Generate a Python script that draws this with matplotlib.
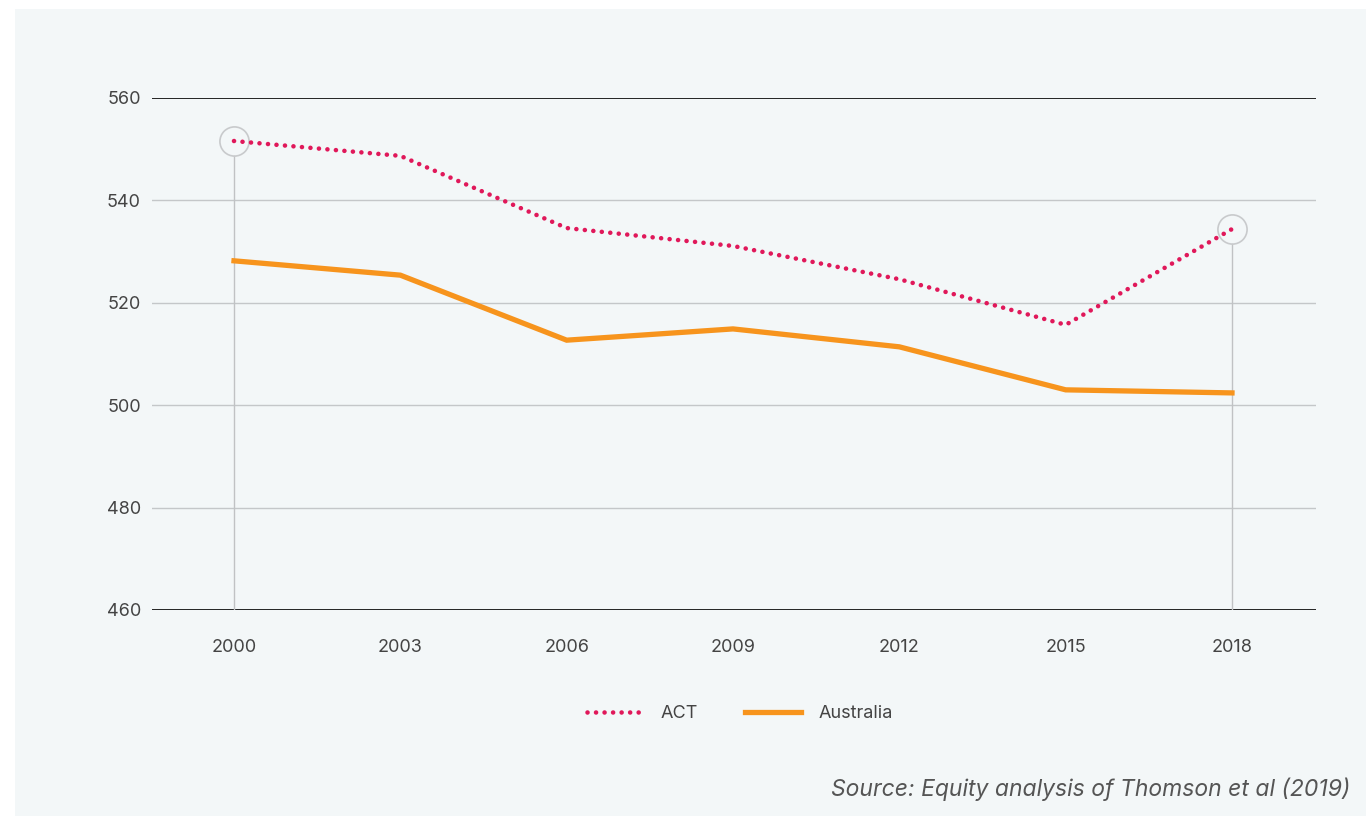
import matplotlib
matplotlib.use('Agg')
import matplotlib.pyplot as plt
from matplotlib.patches import Rectangle

# Данные графика
years = ['2000', '2003', '2006', '2009', '2012', '2015', '2018']
act = [551.6, 548.7, 534.6, 531.1, 524.6, 515.7, 534.4]
australia = [528.2, 525.4, 512.7, 514.9, 511.4, 503.0, 502.4]
y_ticks = [460, 480, 500, 520, 540, 560]
highlight = [0, 6]  # точки ACT, обведённые кружком

W, H = 1366, 816
plt.rcParams['font.family'] = ['Inter', 'DejaVu Sans']

fig = plt.figure(figsize=(W / 100, H / 100), dpi=100, facecolor='white')
# Светлая подложка
fig.patches.append(Rectangle((15 / W, 0), (W - 15) / W, (H - 9) / H,
                             transform=fig.transFigure, facecolor='#f3f7f8',
                             edgecolor='none', zorder=-10))

ax = fig.add_axes([152 / W, 1 - 610 / H, (1316 - 152) / W, (610 - 98) / H])
ax.set_facecolor('none')
ax.set_zorder(5)

x = list(range(len(years)))
ax.set_xlim(-0.493, 6.505)
ax.set_ylim(460, 560)

# Сетка
for t in y_ticks:
    if t in (460, 560):
        ax.axhline(t, color='black', lw=1.2, zorder=1)
    else:
        ax.axhline(t, color='#c4c7c9', lw=1.0, zorder=1)

# Вертикальные линии-выноски и кружки
for i in highlight:
    ax.plot([x[i], x[i]], [460, act[i] - 3.0], color='#c0c2c4', lw=1.0, zorder=2)
    ax.plot(x[i], act[i], marker='o', ms=21, mfc='none', mec='#c8cacc',
            mew=1.2, zorder=2, linestyle='none')

ax.plot(x, australia, color='#f7941d', lw=3.8, solid_joinstyle='miter',
        label='Australia', zorder=3)
ax.plot(x, act, color='#e0185a', lw=3.3, linestyle=(0, (0.01, 1.85)),
        dash_capstyle='round', label='ACT', zorder=4)

ax.set_xticks(x)
ax.set_xticklabels(years)
ax.set_yticks(y_ticks)
ax.tick_params(axis='both', length=0, labelsize=13, labelcolor='#444444')
ax.tick_params(axis='x', pad=21)
ax.tick_params(axis='y', pad=8)
for s in ax.spines.values():
    s.set_visible(False)

handles, labels = ax.get_legend_handles_labels()
leg = fig.legend([handles[1], handles[0]], [labels[1], labels[0]],
                 loc='center', bbox_to_anchor=(740 / W, 1 - 714 / H), ncol=2,
                 frameon=False, fontsize=13, handlelength=3.1,
                 columnspacing=2.6, handletextpad=1.0)
for t in leg.get_texts():
    t.set_color('#444444')

fig.text(1350 / W, 1 - 789 / H, 'Source: Equity analysis of Thomson et al (2019)',
         ha='right', va='center', fontsize=16.5, style='italic', color='#555555')

fig.savefig('out.png', dpi=100, facecolor='white')
